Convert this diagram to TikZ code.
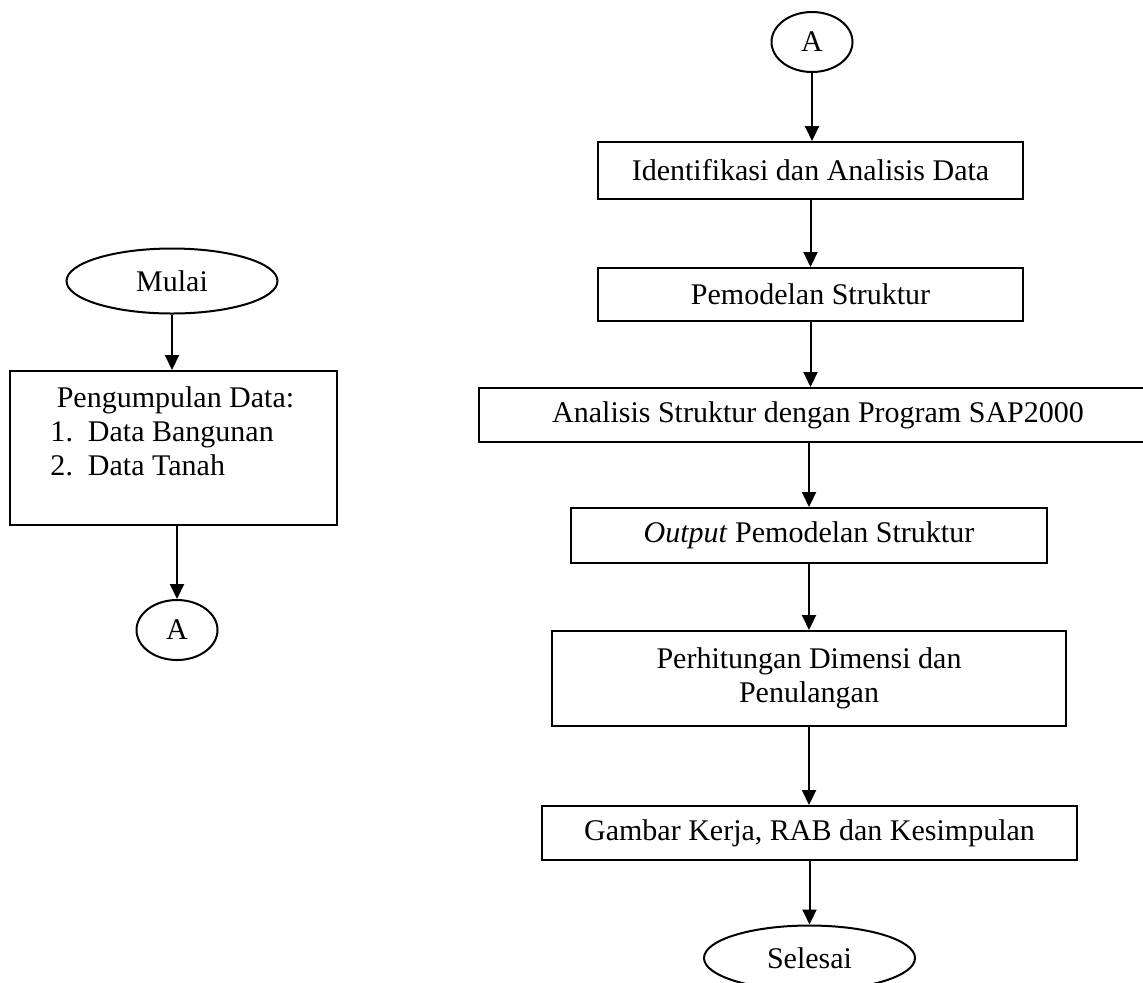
\documentclass[tikz,border=0pt]{standalone}
\usepackage{fontspec}
\setmainfont{Liberation Serif}
\usetikzlibrary{shapes.geometric,arrows.meta}
\begin{document}
\begin{tikzpicture}[x=0.4pt,y=-0.4pt,
  every node/.style={font=\fontsize{12pt}{13.6pt}\selectfont, inner sep=0pt},
  box/.style={draw, rectangle, line width=0.8pt},
  term/.style={draw, ellipse, line width=0.8pt, minimum width=84.4pt, minimum height=26pt},
  conn/.style={draw, ellipse, line width=0.8pt, minimum width=32.4pt, minimum height=24pt},
  arr/.style={-{Triangle[length=6pt,width=5.6pt]}, line width=0.8pt}]
\useasboundingbox (0,0) rectangle (1143,982);
\clip (0,0) rectangle (1143,982);
% left column
\node[term] (mulai) at (172,281) {Mulai};
\node[box, minimum width=130.8pt, minimum height=61.6pt] (data) at (173.5,448) {};
\node[anchor=north west, align=left] (datatxt) at (50,386.5)
  {\hspace*{2.5pt}Pengumpulan Data:\\\makebox[15pt][l]{1.}Data Bangunan\\\makebox[15pt][l]{2.}Data Tanah};
\node[conn] (aL) at (177,630) {A};
% right column
\node[conn] (aR) at (812,42) {A};
\node[box, minimum width=170pt, minimum height=22.8pt] (b1) at (810.5,170.5) {Identifikasi dan Analisis Data};
\node[box, minimum width=170pt, minimum height=21.2pt] (b2) at (810.5,294.5) {Pemodelan Struktur};
\node[box, minimum width=271.2pt, minimum height=21.6pt] (b3) at (818,415) {Analisis Struktur dengan Program SAP2000};
\node[box, minimum width=190.4pt, minimum height=22pt] (b4) at (809,535.5) {\textit{Output} Pemodelan Struktur};
\node[box, minimum width=205.6pt, minimum height=38pt, align=center] (b5) at (809,678.5) {Perhitungan Dimensi dan\\Penulangan};
\node[box, minimum width=214pt, minimum height=21.6pt] (b6) at (809.5,833) {Gambar Kerja, RAB dan Kesimpulan};
\node[term] (sel) at (809.5,958) {Selesai};
% connectors
\draw[arr] (mulai.south) -- (mulai.south |- data.north);
\draw[arr] (aL.north |- data.south) -- (aL.north);
\draw[arr] (aR.south) -- (aR.south |- b1.north);
\draw[arr] (b1.south) -- (b1.south |- b2.north);
\draw[arr] (b2.south) -- (b2.south |- b3.north);
\draw[arr] (b4.north |- b3.south) -- (b4.north);
\draw[arr] (b4.south) -- (b4.south |- b5.north);
\draw[arr] (b5.south) -- (b5.south |- b6.north);
\draw[arr] (b6.south) -- (sel.north);
\end{tikzpicture}
\end{document}
